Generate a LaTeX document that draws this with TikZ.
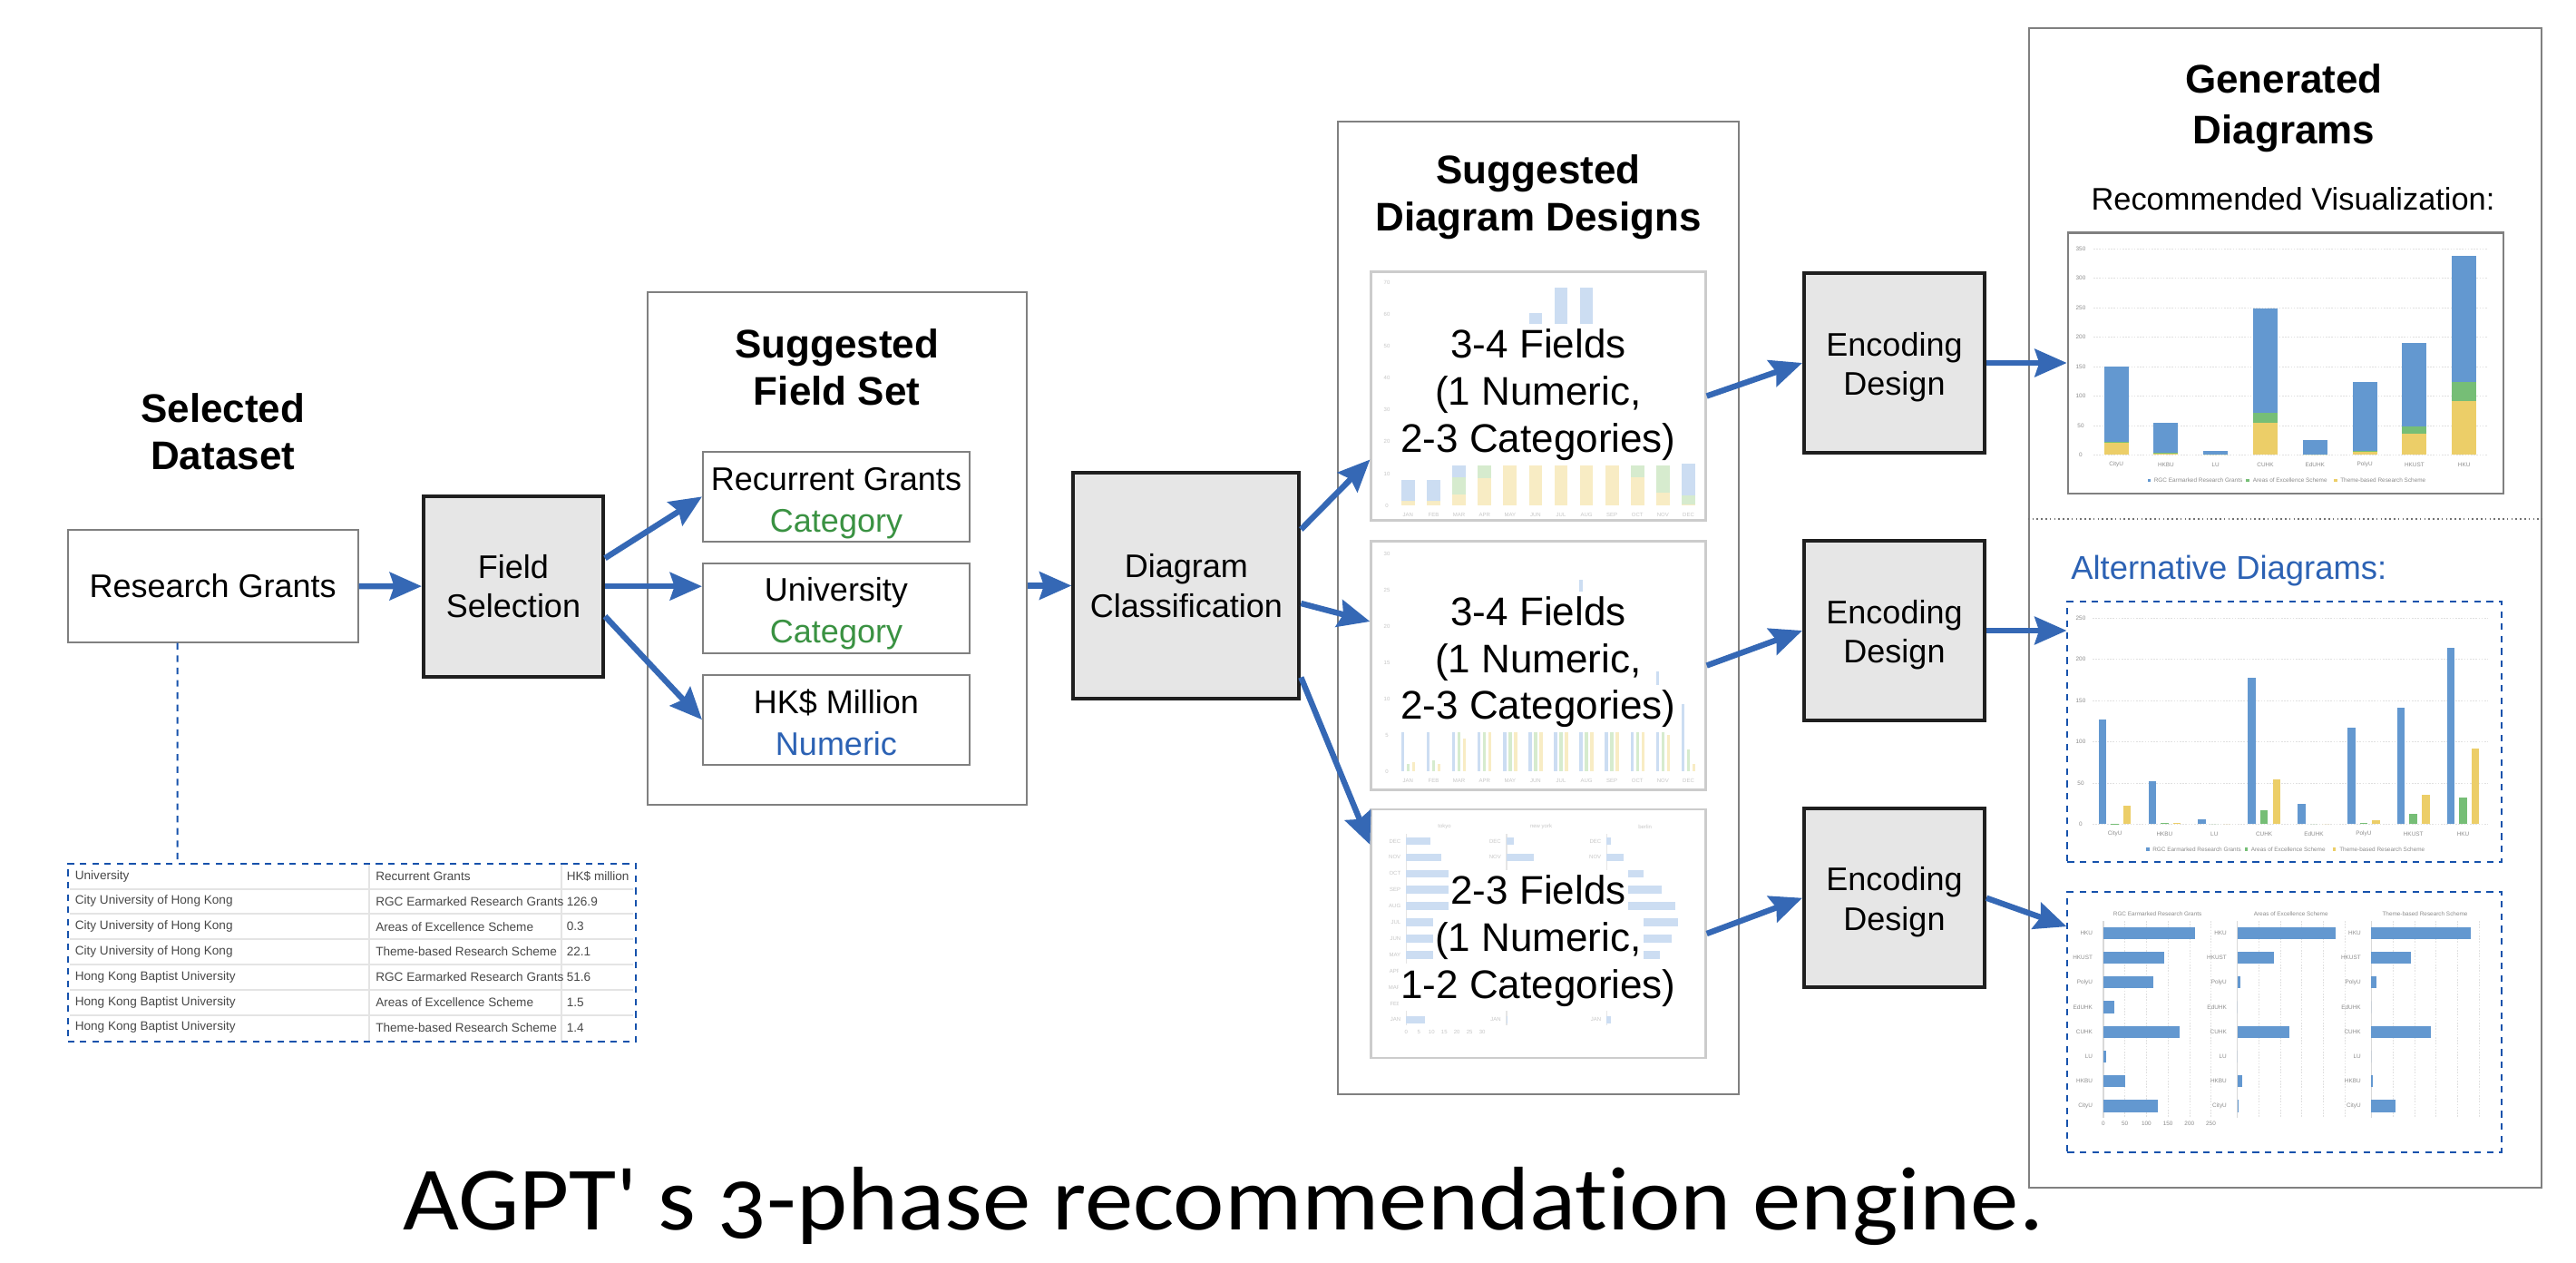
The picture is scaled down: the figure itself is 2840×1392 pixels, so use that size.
\documentclass[tikz,border=0pt]{standalone}
\usepackage{fontspec}
\setmainfont{Liberation Sans}
\newfontfamily\captionfont[Numbers=OldStyle,Ligatures=NoCommon,FakeStretch=1.072]{Carlito}
\usetikzlibrary{arrows.meta}
\usetikzlibrary{calc}

\definecolor{flowblue}{RGB}{53,104,181}
\definecolor{dashblue}{RGB}{22,82,172}
\definecolor{boxgray}{RGB}{230,230,230}
\definecolor{framegray}{RGB}{128,128,128}
\definecolor{catgreen}{RGB}{58,146,66}
\definecolor{numblue}{RGB}{44,98,180}
\definecolor{barblue}{RGB}{99,152,208}
\definecolor{bargreen}{RGB}{118,190,118}
\definecolor{baryellow}{RGB}{236,206,104}
\definecolor{fadeblue}{RGB}{204,221,242}
\definecolor{fadegreen}{RGB}{214,235,206}
\definecolor{fadeyellow}{RGB}{248,236,196}
\definecolor{tablegray}{RGB}{72,72,72}
\definecolor{ruleg}{RGB}{228,228,228}
\newcommand{\lift}[1]{\rule{0pt}{#1}}

\begin{document}
\begin{tikzpicture}[x=0.25pt,y=0.25pt,yscale=-1,xscale=1,
  flow/.style={draw=flowblue,line width=1.6pt,-{Stealth[length=8.8pt,width=7.6pt,inset=1.2pt]}},
  procbox/.style={draw=black!88,line width=1pt,fill=boxgray,align=center,inner sep=0pt,font=\fontsize{9}{10.9}\selectfont},
  plainbox/.style={draw=framegray,line width=0.5pt,fill=white,align=center,inner sep=0pt,font=\fontsize{9}{11.5}\selectfont},
  boxframe/.style={draw=framegray,line width=0.5pt,inner sep=0pt},
  panel/.style={draw=black!20,line width=0.6pt,fill=white,inner sep=0pt,minimum width=92.2pt,minimum height=68.5pt},
  heading/.style={align=center,inner sep=0pt,font=\bfseries\fontsize{11}{13}\selectfont},
  dtext/.style={fill=white,inner xsep=0.5pt,inner ysep=0pt,text height=8.2pt,text depth=2.3pt,minimum height=13pt,font=\fontsize{11}{13}\selectfont},
  altframe/.style={draw=dashblue,line width=0.5pt,dash pattern=on 1.8pt off 1.6pt,inner sep=0pt,minimum width=119.7pt,minimum height=71.7pt},
  ticklab/.style={inner sep=0pt,text=black!45,font=\fontsize{1.6}{2}\selectfont},
  faintlab/.style={inner sep=0pt,text=black!22,font=\fontsize{1.5}{2}\selectfont},
  gridline/.style={draw=black!12,line width=0.15pt,dash pattern=on 0.4pt off 0.4pt},
  tcell/.style={inner sep=0pt,anchor=west,text=tablegray,font=\fontsize{3.4}{4}\selectfont}
]
\fill[white] (0,0) rectangle (2840,1392);
\useasboundingbox (0,0) rectangle (2840,1392);

% Text Node
\node[heading] (selt) at (245.7,476) {Selected\\Dataset};
%Shape: Rectangle
\node[plainbox,minimum width=80pt,minimum height=30.9pt] (rg) at (234.7,645.9) {Research Grants};

%Shape: Table
\fill[white] (74.7,951.7) rectangle (700.6,1148.3);
\foreach \r in {1,...,6}
  \draw[draw=ruleg,line width=0.5pt] (77,{951.7+27.8*\r}) -- (698,{951.7+27.8*\r});
\draw[draw=ruleg,line width=0.5pt] (407,953) -- (407,1147);
\draw[draw=ruleg,line width=0.5pt] (618.5,953) -- (618.5,1147);
\foreach \ca/\cb/\cc [count=\r] in {University/Recurrent Grants/HK\$ million,
    City University of Hong Kong/RGC Earmarked Research Grants/126.9,
    City University of Hong Kong/Areas of Excellence Scheme/0.3,
    City University of Hong Kong/Theme-based Research Scheme/22.1,
    Hong Kong Baptist University/RGC Earmarked Research Grants/51.6,
    Hong Kong Baptist University/Areas of Excellence Scheme/1.5,
    Hong Kong Baptist University/Theme-based Research Scheme/1.4} {
  \node[tcell] (ta\r) at (82,{951.7+27.8*(\r-0.5)}) {\ca};
  \node[tcell] (tb\r) at (413.5,{951.7+27.8*(\r-0.5)}) {\cb};
  \node[tcell] (tc\r) at (624,{951.7+27.8*(\r-0.5)}) {\cc};
}
\node[altframe,minimum width=156.5pt,minimum height=49.15pt] (tbl) at (387.65,1050) {};
%Straight Lines
\draw[draw=dashblue,line width=0.5pt,dash pattern=on 1.8pt off 1.6pt] ($(rg.south west)+(122,0)$) -- ($(tbl.north west)+(122,0)$);

%Shape: Rectangle
\node[procbox,minimum width=49.5pt,minimum height=49.75pt] (fs) at (566,646.2) {Field\\Selection};

%Shape: Rectangle
\node[boxframe,minimum width=104.5pt,minimum height=141.25pt] (fsbox) at (922.65,604.2) {};
% Text Node
\node[heading] (fst) at (922.6,405) {Suggested\\Field Set};
\node[plainbox,minimum width=73.5pt,minimum height=24.7pt] (rc) at (922,547.35) {\lift{9.8pt}Recurrent Grants\\\textcolor{catgreen}{Category}};
\node[plainbox,minimum width=73.5pt,minimum height=24.7pt] (uni) at (922,670.35) {\lift{9.4pt}University\\\textcolor{catgreen}{Category}};
\node[plainbox,minimum width=73.5pt,minimum height=24.7pt] (hk) at (922,793.2) {\lift{8pt}HK\$ Million\\\textcolor{numblue}{Numeric}};

%Shape: Rectangle
\node[procbox,minimum width=62.25pt,minimum height=62.25pt] (dc) at (1307.8,645.5) {Diagram\\Classification};

%Shape: Rectangle
\node[boxframe,minimum width=110.7pt,minimum height=267.85pt] (ddbox) at (1696.05,670) {};
% Text Node
\node[heading] (ddt) at (1696,217) {Suggested\\Diagram Designs};
\node[panel] (p1) at (1696.05,436.5) {};
\node[panel] (p2) at (1696.05,733.5) {};
\node[panel] (p3) at (1696.05,1029) {};

% faint chart 1
\foreach \k [evaluate=\k as \v using int(10*\k)] in {0,...,7}
  \node[faintlab] (fa\k) at (1529,{557.1-35.1*\k}) {\v};
\foreach \mon/\yv/\gv/\bv [count=\i from 0] in {JAN/1.4/0/6.5, FEB/1.4/0/6.5, MAR/3.5/5.5/5.3, APR/8.6/5.7/10, MAY/13.4/3/15, JUN/20/5/35.3, JUL/22/6/40.4, AUG/22/6/40.4, SEP/14.3/4/15, OCT/9/5.3/10, NOV/3.9/9.1/2, DEC/0.4/2.7/9.9} {
  \pgfmathsetmacro\cx{1552.4+28.1*\i}
  \fill[fadeyellow] (\cx-7.35,557.1) rectangle (\cx+7.35,{557.1-3.51*\yv});
  \fill[fadegreen] (\cx-7.35,{557.1-3.51*\yv}) rectangle (\cx+7.35,{557.1-3.51*(\yv+\gv)});
  \fill[fadeblue] (\cx-7.35,{557.1-3.51*(\yv+\gv)}) rectangle (\cx+7.35,{557.1-3.51*(\yv+\gv+\bv)});
  \node[faintlab] (fm\i) at (\cx,567) {\mon};
}
% faint chart 2
\foreach \k [evaluate=\k as \v using int(5*\k)] in {0,...,6}
  \node[faintlab] (ga\k) at (1529,{850-40*\k}) {\v};
\foreach \mon/\bv/\gv/\yv [count=\i from 0] in {JAN/7/1/1.2, FEB/7/1.5/1, MAR/8/7.5/4.5, APR/7/8/8, MAY/7/7.5/7, JUN/7.5/7.5/7, JUL/7.5/8/7.5, AUG/26.4/7.5/8, SEP/7.5/7/7, OCT/8/7/7, NOV/13.8/8/5, DEC/9.3/3/1} {
  \pgfmathsetmacro\cx{1552.4+28.1*\i}
  \fill[fadeblue] (\cx-7.75,850) rectangle (\cx-4.25,{850-8*\bv});
  \fill[fadegreen] (\cx-1.75,850) rectangle (\cx+1.75,{850-8*\gv});
  \fill[fadeyellow] (\cx+4.25,850) rectangle (\cx+7.75,{850-8*\yv});
  \node[faintlab] (gm\i) at (\cx,860.7) {\mon};
}
% faint chart 3
\node[faintlab] (st1) at (1592.6,911.4) {tokyo};
\node[faintlab] (st2) at (1699,911.4) {new york};
\node[faintlab] (st3) at (1813.6,911.4) {berlin};
\foreach \ax in {1550.4,1661,1771.4}
  \draw[draw=black!10,line width=0.3pt] (\ax,919) -- (\ax,1130);
\foreach \mon/\tv/\nv/\wv [count=\i from 0] in {DEC/9.6/3/1.7, NOV/13.9/10.8/6.5, OCT/17.3/15/14.4, SEP/17/20/21.6, AUG/17.3/25/27, JUL/12/26/28.3, JUN/12/24/25.6, MAY/12/18/21.1, APR/8/12/13, MAR/6/6/7, FEB/5/1.5/3, JAN/7.2/0.5/1.7} {
  \pgfmathsetmacro\ry{927+17.9*\i}
  \fill[fadeblue] (1550.4,\ry-4.3) rectangle ({1550.4+2.79*\tv},\ry+4.3);
  \fill[fadeblue] (1661,\ry-4.3) rectangle ({1661+2.79*\nv},\ry+4.3);
  \fill[fadeblue] (1771.4,\ry-4.3) rectangle ({1771.4+2.79*\wv},\ry+4.3);
  \node[faintlab,anchor=east] (sa\i) at (1545,\ry) {\mon};
  \node[faintlab,anchor=east] (sb\i) at (1655.6,\ry) {\mon};
  \node[faintlab,anchor=east] (sc\i) at (1766,\ry) {\mon};
}
\foreach \k [evaluate=\k as \v using int(5*\k)] in {0,...,6}
  \node[faintlab] (sx\k) at ({1550.4+13.95*\k},1137.9) {\v};

% Text Node
\node[dtext] (d1a) at (1696,382.6) {3-4 Fields};
\node[dtext] (d1b) at (1696,434.7) {(1 Numeric,};
\node[dtext] (d1c) at (1696,486.9) {2-3 Categories)};
\node[dtext] (d2a) at (1696,677.6) {3-4 Fields};
\node[dtext] (d2b) at (1696,729.7) {(1 Numeric,};
\node[dtext] (d2c) at (1696,781.1) {2-3 Categories)};
\node[dtext] (d3a) at (1696,984.7) {2-3 Fields};
\node[dtext] (d3b) at (1696,1036.9) {(1 Numeric,};
\node[dtext] (d3c) at (1696,1088.3) {1-2 Categories)};

%Shape: Rectangle
\node[procbox,minimum width=49.75pt,minimum height=49.3pt] (enc1) at (2088.5,400) {\lift{8.8pt}Encoding\\Design};
\node[procbox,minimum width=49.75pt,minimum height=49.3pt] (enc2) at (2088.5,695) {\lift{8.8pt}Encoding\\Design};
\node[procbox,minimum width=49.75pt,minimum height=49.3pt] (enc3) at (2088.5,989.7) {\lift{8.8pt}Encoding\\Design};

%Shape: Rectangle
\node[boxframe,minimum width=141.3pt,minimum height=319.4pt] (gdbox) at (2519.35,670.2) {};
% Text Node
\node[heading,font=\bfseries\fontsize{11}{14}\selectfont] (gdt) at (2518,119) {Generated\\Diagrams};
\node[inner sep=0pt,font=\fontsize{8.6}{10}\selectfont] (rvt) at (2528,219) {Recommended Visualization:};
\node[draw=framegray,line width=0.6pt,inner sep=0pt,minimum width=120pt,minimum height=71.9pt] (rec) at (2519.85,400.25) {};

% stacked chart
\foreach \k [evaluate=\k as \v using int(50*\k)] in {0,...,7} {
  \draw[gridline] (2308,{501.3-32.5*\k}) -- (2743,{501.3-32.5*\k});
  \node[ticklab] (ry\k) at (2294,{501.3-32.5*\k}) {\v};
}
\foreach \uname/\bv/\gv/\yv [count=\i from 0] in {CityU/126.9/0.3/22.1, HKBU/51.6/1.5/1.4, LU/6/0/0, CUHK/177/17/54, EdUHK/25/0/0, PolyU/117/1/5, HKUST/141/12/36, HKU/214/32/91} {
  \pgfmathsetmacro\cx{2333.1+54.8*\i}
  \fill[baryellow] (\cx-13.5,501.3) rectangle (\cx+13.5,{501.3-0.65*\yv});
  \fill[bargreen] (\cx-13.5,{501.3-0.65*\yv}) rectangle (\cx+13.5,{501.3-0.65*(\yv+\gv)});
  \fill[barblue] (\cx-13.5,{501.3-0.65*(\yv+\gv)}) rectangle (\cx+13.5,{501.3-0.65*(\yv+\gv+\bv)});
  \node[ticklab] (rx\i) at (\cx,512) {\uname};
}
\fill[barblue] (2367.5,527.8) rectangle (2371.1,531.4);
\node[ticklab,anchor=west] (rl1) at (2374,529.6) {RGC Earmarked Research Grants};
\fill[bargreen] (2476.4,527.8) rectangle (2480,531.4);
\node[ticklab,anchor=west] (rl2) at (2483,529.6) {Areas of Excellence Scheme};
\fill[baryellow] (2572.9,527.8) rectangle (2576.5,531.4);
\node[ticklab,anchor=west] (rl3) at (2579.5,529.6) {Theme-based Research Scheme};

%Straight Lines
\coordinate (sep) at (2519,572);
\draw[draw=black!55,line width=0.4pt,dash pattern=on 0.4pt off 0.8pt] (gdbox.west |- sep) -- (gdbox.east |- sep);

% Text Node
\node[inner sep=0pt,anchor=base west,text=numblue,font=\fontsize{9.1}{11}\selectfont] (altt) at (2282.5,638) {Alternative Diagrams:};
\node[altframe] (alt1) at (2518.85,806.65) {};
\node[altframe] (alt2) at (2518.85,1126.15) {};

% grouped chart
\foreach \k [evaluate=\k as \v using int(50*\k)] in {0,...,5} {
  \draw[gridline] (2307,{908.3-45.5*\k}) -- (2743,{908.3-45.5*\k});
  \node[ticklab] (gy\k) at (2294,{908.3-45.5*\k}) {\v};
}
\foreach \uname/\bv/\gv/\yv [count=\i from 0] in {CityU/126.9/0.3/22.1, HKBU/51.6/1.5/1.4, LU/6/0/0, CUHK/177/17/54, EdUHK/25/0/0, PolyU/117/1/5, HKUST/141/12/36, HKU/214/32/91} {
  \pgfmathsetmacro\cx{2318+54.85*\i}
  \fill[barblue] (\cx-4.25,908.3) rectangle (\cx+4.25,{908.3-0.91*\bv});
  \fill[bargreen] (\cx+9.35,908.3) rectangle (\cx+17.85,{908.3-0.91*\gv});
  \fill[baryellow] (\cx+22.95,908.3) rectangle (\cx+31.45,{908.3-0.91*\yv});
  \node[ticklab] (gx\i) at (\cx+13.6,919) {\uname};
}
\fill[barblue] (2366.2,934.2) rectangle (2369.8,937.8);
\node[ticklab,anchor=west] (gl1) at (2372.5,936) {RGC Earmarked Research Grants};
\fill[bargreen] (2474.5,934.2) rectangle (2478.1,937.8);
\node[ticklab,anchor=west] (gl2) at (2481,936) {Areas of Excellence Scheme};
\fill[baryellow] (2571.7,934.2) rectangle (2575.3,937.8);
\node[ticklab,anchor=west] (gl3) at (2578.5,936) {Theme-based Research Scheme};

% bar chart small multiples
\node[ticklab] (ht1) at (2378.6,1007.3) {RGC Earmarked Research Grants};
\node[ticklab] (ht2) at (2525.7,1007.3) {Areas of Excellence Scheme};
\node[ticklab] (ht3) at (2673.5,1007.3) {Theme-based Research Scheme};
\foreach \ax in {2319,2466.5,2614.4} {
  \foreach \k in {1,...,5}
    \draw[gridline] ({\ax+23.7*\k},1015) -- ({\ax+23.7*\k},1232);
  \draw[draw=black!15,line width=0.3pt] (\ax,1015) -- (\ax,1232);
}
\foreach \uname/\bv/\gv/\yv [count=\i from 0] in {HKU/214/32/91, HKUST/141/12/36, PolyU/117/1/5, EdUHK/25/0/0, CUHK/177/17/54, LU/6/0/0, HKBU/51.6/1.5/1.4, CityU/126.9/0.3/22.1} {
  \pgfmathsetmacro\ry{1028.3+27.24*\i}
  \fill[barblue] (2319,\ry-6.65) rectangle ({2319+0.474*\bv},\ry+6.65);
  \fill[barblue] (2466.5,\ry-6.65) rectangle ({2466.5+3.375*\gv},\ry+6.65);
  \fill[barblue] (2614.4,\ry-6.65) rectangle ({2614.4+1.2055*\yv},\ry+6.65);
  \node[ticklab,anchor=east] (ha\i) at (2307.8,\ry) {\uname};
  \node[ticklab,anchor=east] (hb\i) at (2455.6,\ry) {\uname};
  \node[ticklab,anchor=east] (hc\i) at (2603.5,\ry) {\uname};
}
\foreach \k [evaluate=\k as \v using int(50*\k)] in {0,...,5}
  \node[ticklab] (hx\k) at ({2319+23.7*\k},1238.3) {\v};

% connectors
\draw[flow] (rg) -- (fs);
\draw[flow] ($(fs.east)+(0,-31)$) -- (rc.west);
\draw[flow] (fs.east) -- (fs.east -| uni.west);
\draw[flow] ($(fs.east)+(0,33)$) -- (hk.west);
\draw[flow] (dc.west -| fsbox.east) -- (dc.west);
\draw[flow] ($(dc.east)+(0,-62)$) -- ($(p1.west)+(0,70)$);
\draw[flow] ($(dc.east)+(0,19.5)$) -- ($(p2.west)+(0,-48.5)$);
\draw[flow] ($(dc.east)+(0,101)$) -- ($(p3.west)+(0,-98)$);
\draw[flow] (p1.east) -- (enc1.west);
\draw[flow] (p2.east) -- (enc2.west);
\draw[flow] (p3.east) -- (enc3.west);
\draw[flow] (enc1.east) -- (enc1.east -| rec.west);
\draw[flow] (enc2.east) -- (enc2.east -| alt1.west);
\draw[flow] (enc3.east) -- ($(alt2.west)+(0,-105)$);

% Text Node
\node[inner sep=0pt,anchor=base west,font=\captionfont\fontsize{24.9}{30}\selectfont] (cap) at (443.5,1355) {AGPT\textquotesingle{} s 3-phase recommendation engine.};

\end{tikzpicture}
\end{document}
